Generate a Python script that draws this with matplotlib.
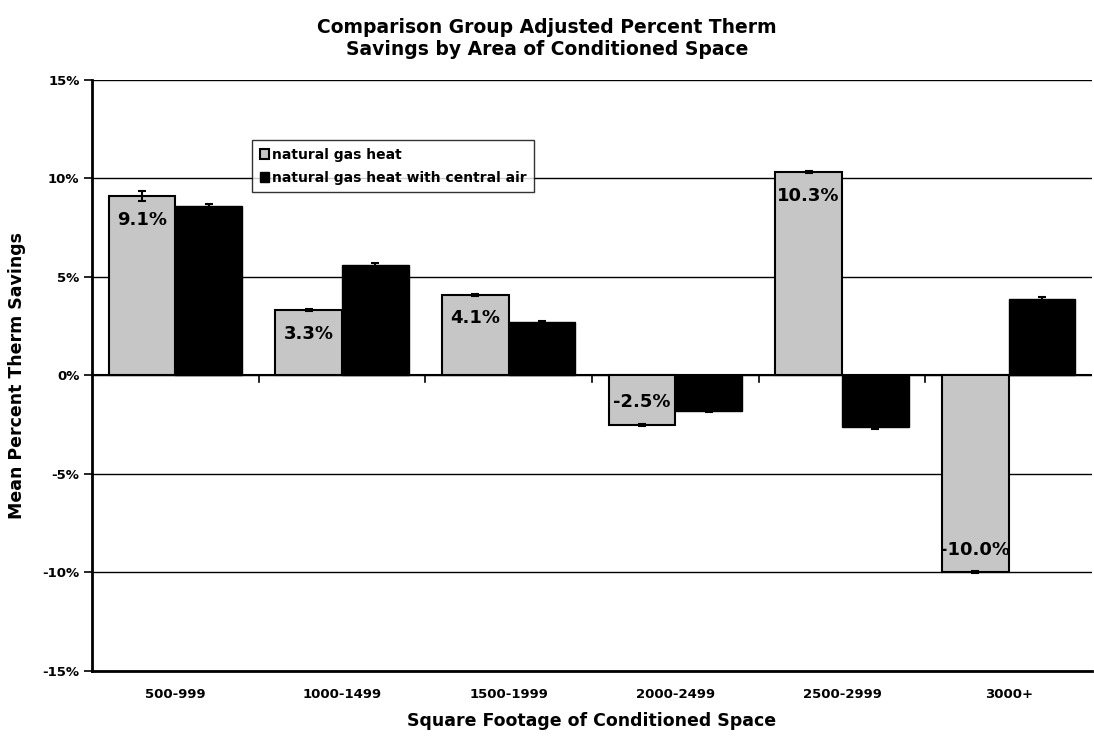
import matplotlib
matplotlib.use("Agg")
import matplotlib.pyplot as plt
import numpy as np
from matplotlib.ticker import FuncFormatter

plt.rcParams['font.family'] = ['DejaVu Sans']
plt.rcParams['font.weight'] = 'bold'

categories = ["500-999", "1000-1499", "1500-1999", "2000-2499", "2500-2999", "3000+"]
gas_heat = [9.1, 3.3, 4.1, -2.5, 10.3, -10.0]
gas_heat_air = [8.6, 5.6, 2.7, -1.8, -2.6, 3.9]
gas_heat_err = [0.25, 0.05, 0.05, 0.05, 0.05, 0.05]
gas_heat_air_err = [0.08, 0.08, 0.05, 0.08, 0.1, 0.08]
gas_labels = ["9.1%", "3.3%", "4.1%", "-2.5%", "10.3%", "-10.0%"]
series_names = ["natural gas heat", "natural gas heat with central air"]

fig = plt.figure(figsize=(10.94, 7.39), dpi=100)
ax = fig.add_axes([0.0841, 0.092, 0.914, 0.80])

x = np.arange(len(categories))
w = 0.4
ax.bar(x - w / 2, gas_heat, w, color="#c6c6c6", edgecolor="black", linewidth=1.5,
       yerr=gas_heat_err, capsize=3, error_kw=dict(ecolor="black", elinewidth=1.5, capthick=1.5),
       label=series_names[0], zorder=3)
ax.bar(x + w / 2, gas_heat_air, w, color="black", edgecolor="black", linewidth=1.0,
       yerr=gas_heat_air_err, capsize=3, error_kw=dict(ecolor="black", elinewidth=1.5, capthick=1.5),
       label=series_names[1], zorder=3)

for xi, v, lab in zip(x, gas_heat, gas_labels):
    off = -1.2 if v > 0 else 1.15
    ax.text(xi - w / 2, v + off, lab, ha="center", va="center", fontsize=13,
            fontweight="bold", color="black", zorder=4)

ax.set_xlim(-0.5, len(categories) - 0.5)
ax.set_ylim(-15, 15)
ax.set_yticks(np.arange(-15, 16, 5))
ax.yaxis.set_major_formatter(FuncFormatter(lambda v, p: f"{int(v)}%"))
ax.grid(axis="y", color="black", linewidth=1.0, zorder=0)
ax.set_xticks(x)
ax.set_xticklabels(categories, fontsize=9.5, fontweight="bold")
ax.tick_params(axis="x", length=0, pad=12)
ax.tick_params(axis="y", labelsize=9.5, length=6, width=1.2, direction="out", pad=3)

# zero line with category separator ticks
ax.axhline(0, color="black", linewidth=1.5, zorder=2)
for b in np.arange(0.5, len(categories) - 0.5, 1.0):
    ax.plot([b, b], [0, -0.35], color="black", linewidth=1.2, zorder=2)

for s in ["top", "right"]:
    ax.spines[s].set_visible(False)
ax.spines["left"].set_linewidth(2)
ax.spines["bottom"].set_linewidth(2)

ax.set_ylabel("Mean Percent Therm Savings", fontsize=12.5, fontweight="bold", labelpad=12)
ax.set_xlabel("Square Footage of Conditioned Space", fontsize=12.5, fontweight="bold", labelpad=8)
fig.suptitle("Comparison Group Adjusted Percent Therm\nSavings by Area of Conditioned Space",
             fontsize=13.5, fontweight="bold", y=0.975)

leg = ax.legend(loc="upper left", bbox_to_anchor=(0.16, 0.898), fontsize=10, frameon=True,
                fancybox=False, edgecolor="black", handlelength=0.7, handleheight=0.7,
                handletextpad=0.2, borderpad=0.55, labelspacing=0.65, borderaxespad=0)
leg.get_frame().set_linewidth(1.0)
for t in leg.get_texts():
    t.set_fontweight("bold")

fig.savefig("out.png", dpi=100, facecolor="white")
